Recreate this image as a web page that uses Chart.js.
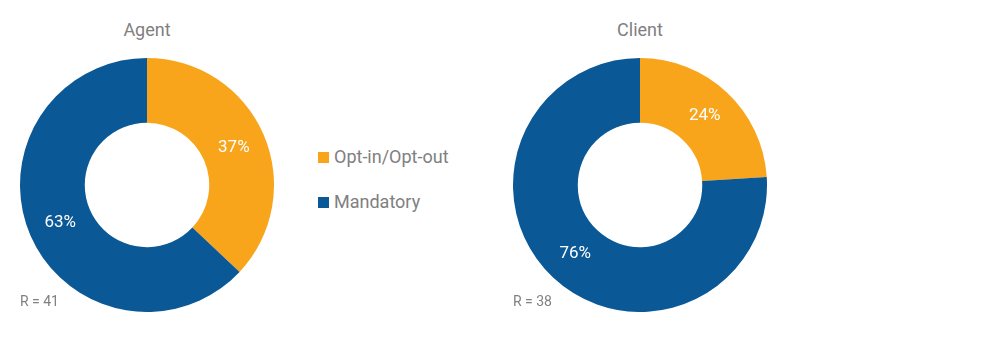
<!DOCTYPE html>
<html>
<head>
<meta charset="utf-8">
<script src="https://cdn.jsdelivr.net/npm/chart.js@4/dist/chart.umd.min.js"></script>
<style>
  html, body { margin:0; padding:0; background:#fff; width:1000px; height:355px; overflow:hidden; font-family: Roboto, "Noto Sans", sans-serif; }
  .box { position:absolute; width:254px; height:254px; top:58px; }
  .title { position:absolute; top:19px; width:254px; text-align:center; font-size:18px; color:#808080; }
  .note { position:absolute; top:293px; font-size:14px; color:#808080; }
  #legend { position:absolute; left:318px; top:144px; font-size:18px; color:#808080; }
  .li { position:relative; height:45px; line-height:26px; }
  .sw { display:inline-block; width:11px; height:11px; margin-right:5px; vertical-align:0px; }
</style>
</head>
<body>
<div class="title" style="left:20px">Agent</div>
<div class="title" style="left:513px">Client</div>
<div class="box" style="left:20px"><canvas id="c1" width="254" height="254"></canvas></div>
<div class="box" style="left:513px"><canvas id="c2" width="254" height="254"></canvas></div>
<div class="note" style="left:20px">R = 41</div>
<div class="note" style="left:513px">R = 38</div>
<div id="legend"></div>
<script>
const categories = ["Opt-in/Opt-out", "Mandatory"];
const agentValues = [37, 63];
const clientValues = [24, 76];
const colors = ["#F9A51C", "#0A5896"];

const leg = document.getElementById('legend');
categories.forEach((c, i) => {
  const d = document.createElement('div');
  d.className = 'li';
  d.innerHTML = '<span class="sw" style="background:' + colors[i] + '"></span>' + c;
  leg.appendChild(d);
});

const labelPlugin = {
  id: 'pctLabels',
  afterDatasetsDraw(chart) {
    const ctx = chart.ctx;
    const meta = chart.getDatasetMeta(0);
    const data = chart.data.datasets[0].data;
    ctx.save();
    ctx.fillStyle = '#ffffff';
    ctx.font = '17px Roboto, "Noto Sans", sans-serif';
    ctx.textAlign = 'center';
    ctx.textBaseline = 'middle';
    meta.data.forEach((arc, i) => {
      const p = arc.tooltipPosition();
      ctx.fillText(data[i] + '%', p.x, p.y);
    });
    ctx.restore();
  }
};

function make(id, values) {
  new Chart(document.getElementById(id), {
    type: 'doughnut',
    data: { labels: categories, datasets: [{ data: values, backgroundColor: colors, borderWidth: 0 }] },
    options: {
      responsive: false,
      animation: false,
      cutout: '49%',
      layout: { padding: 0 },
      plugins: { legend: { display: false }, tooltip: { enabled: false } }
    },
    plugins: [labelPlugin]
  });
}
make('c1', agentValues);
make('c2', clientValues);
</script>
</body>
</html>
